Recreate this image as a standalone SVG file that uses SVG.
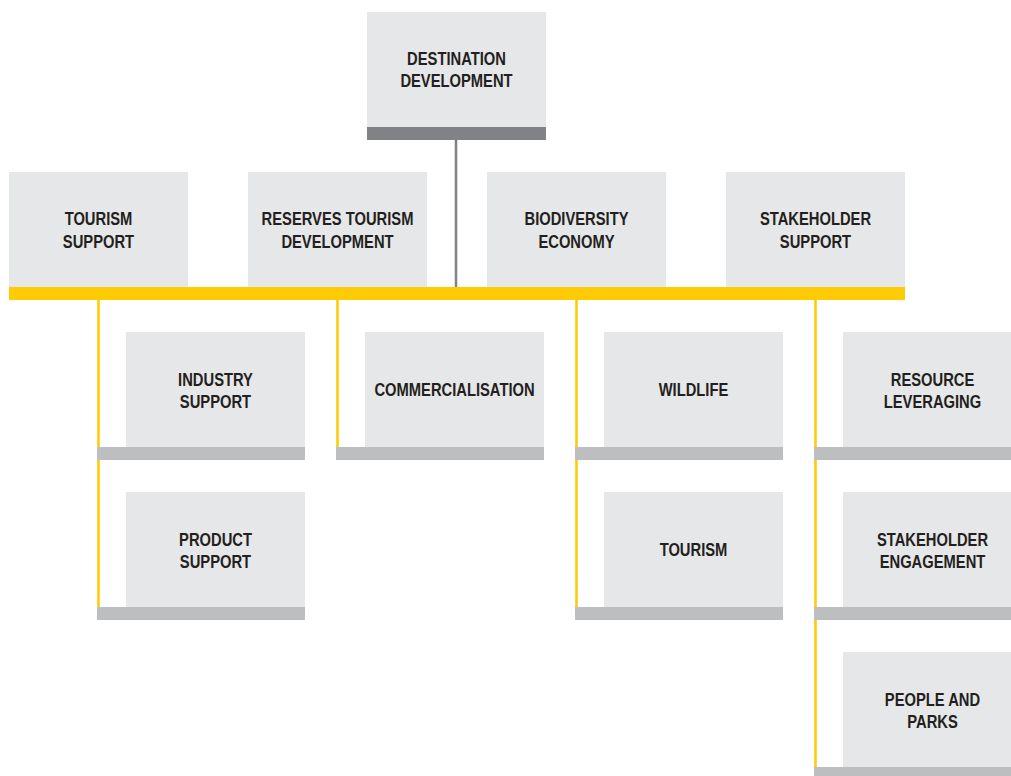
<svg xmlns="http://www.w3.org/2000/svg" width="1011" height="776" viewBox="0 0 1011 776">
  <style>
    .box { fill: #e6e7e8; }
    .base { fill: #bcbec0; }
    .base-dark { fill: #808285; }
    .stem { stroke: #808285; stroke-width: 2.5; fill: none; }
    .drop { stroke: #ffcb05; stroke-width: 2.6; fill: none; }
    .rail { fill: #ffcb05; }
    .label { font-family: "Liberation Sans", Arial, sans-serif; font-weight: bold; font-size: 18px; fill: #231f20; text-anchor: middle; }
  </style>

  <!-- connectors -->
  <g id="connectors">
    <line class="stem" x1="456" y1="140" x2="456" y2="288"/>
    <line class="drop" x1="98.5" y1="299" x2="98.5" y2="620"/>
    <line class="drop" x1="337.5" y1="299" x2="337.5" y2="460"/>
    <line class="drop" x1="576.5" y1="299" x2="576.5" y2="620"/>
    <line class="drop" x1="815.5" y1="299" x2="815.5" y2="776"/>
  </g>

  <!-- root -->
  <g id="destination-development">
    <rect class="box" x="367" y="12" width="179" height="115"/>
    <rect class="base-dark" x="367" y="127" width="179" height="13"/>
    <text class="label" transform="translate(456.5,65) scale(0.82,1)">DESTINATION</text>
    <text class="label" transform="translate(456.5,87) scale(0.82,1)">DEVELOPMENT</text>
  </g>

  <!-- second level -->
  <g id="tourism-support">
    <rect class="box" x="9" y="172" width="179" height="115"/>
    <text class="label" transform="translate(98.5,225) scale(0.82,1)">TOURISM</text>
    <text class="label" transform="translate(98.5,248) scale(0.82,1)">SUPPORT</text>
  </g>
  <g id="reserves-tourism-development">
    <rect class="box" x="248" y="172" width="179" height="115"/>
    <text class="label" transform="translate(337.5,225) scale(0.82,1)">RESERVES TOURISM</text>
    <text class="label" transform="translate(337.5,248) scale(0.82,1)">DEVELOPMENT</text>
  </g>
  <g id="biodiversity-economy">
    <rect class="box" x="487" y="172" width="179" height="115"/>
    <text class="label" transform="translate(576.5,225) scale(0.82,1)">BIODIVERSITY</text>
    <text class="label" transform="translate(576.5,248) scale(0.82,1)">ECONOMY</text>
  </g>
  <g id="stakeholder-support">
    <rect class="box" x="726" y="172" width="179" height="115"/>
    <text class="label" transform="translate(815.5,225) scale(0.82,1)">STAKEHOLDER</text>
    <text class="label" transform="translate(815.5,248) scale(0.82,1)">SUPPORT</text>
  </g>

  <!-- yellow rail under the second level -->
  <g id="rail">
    <rect class="rail" x="9" y="287" width="896" height="13"/>
  </g>

  <!-- third level -->
  <g id="industry-support">
    <rect class="box" x="126" y="332" width="179" height="115"/>
    <rect class="base" x="97" y="447" width="208" height="13"/>
    <text class="label" transform="translate(215.5,386) scale(0.82,1)">INDUSTRY</text>
    <text class="label" transform="translate(215.5,408) scale(0.82,1)">SUPPORT</text>
  </g>
  <g id="product-support">
    <rect class="box" x="126" y="492" width="179" height="115"/>
    <rect class="base" x="97" y="607" width="208" height="13"/>
    <text class="label" transform="translate(215.5,546) scale(0.82,1)">PRODUCT</text>
    <text class="label" transform="translate(215.5,568) scale(0.82,1)">SUPPORT</text>
  </g>
  <g id="commercialisation">
    <rect class="box" x="365" y="332" width="179" height="115"/>
    <rect class="base" x="336" y="447" width="208" height="13"/>
    <text class="label" transform="translate(454.5,396) scale(0.82,1)">COMMERCIALISATION</text>
  </g>
  <g id="wildlife">
    <rect class="box" x="604" y="332" width="179" height="115"/>
    <rect class="base" x="575" y="447" width="208" height="13"/>
    <text class="label" transform="translate(693.5,396) scale(0.82,1)">WILDLIFE</text>
  </g>
  <g id="tourism">
    <rect class="box" x="604" y="492" width="179" height="115"/>
    <rect class="base" x="575" y="607" width="208" height="13"/>
    <text class="label" transform="translate(693.5,556) scale(0.82,1)">TOURISM</text>
  </g>
  <g id="resource-leveraging">
    <rect class="box" x="843" y="332" width="179" height="115"/>
    <rect class="base" x="814" y="447" width="208" height="13"/>
    <text class="label" transform="translate(932.5,386) scale(0.82,1)">RESOURCE</text>
    <text class="label" transform="translate(932.5,408) scale(0.82,1)">LEVERAGING</text>
  </g>
  <g id="stakeholder-engagement">
    <rect class="box" x="843" y="492" width="179" height="115"/>
    <rect class="base" x="814" y="607" width="208" height="13"/>
    <text class="label" transform="translate(932.5,546) scale(0.82,1)">STAKEHOLDER</text>
    <text class="label" transform="translate(932.5,568) scale(0.82,1)">ENGAGEMENT</text>
  </g>
  <g id="people-and-parks">
    <rect class="box" x="843" y="652" width="179" height="115"/>
    <rect class="base" x="814" y="767" width="208" height="13"/>
    <text class="label" transform="translate(932.5,706) scale(0.82,1)">PEOPLE AND</text>
    <text class="label" transform="translate(932.5,728) scale(0.82,1)">PARKS</text>
  </g>
</svg>
